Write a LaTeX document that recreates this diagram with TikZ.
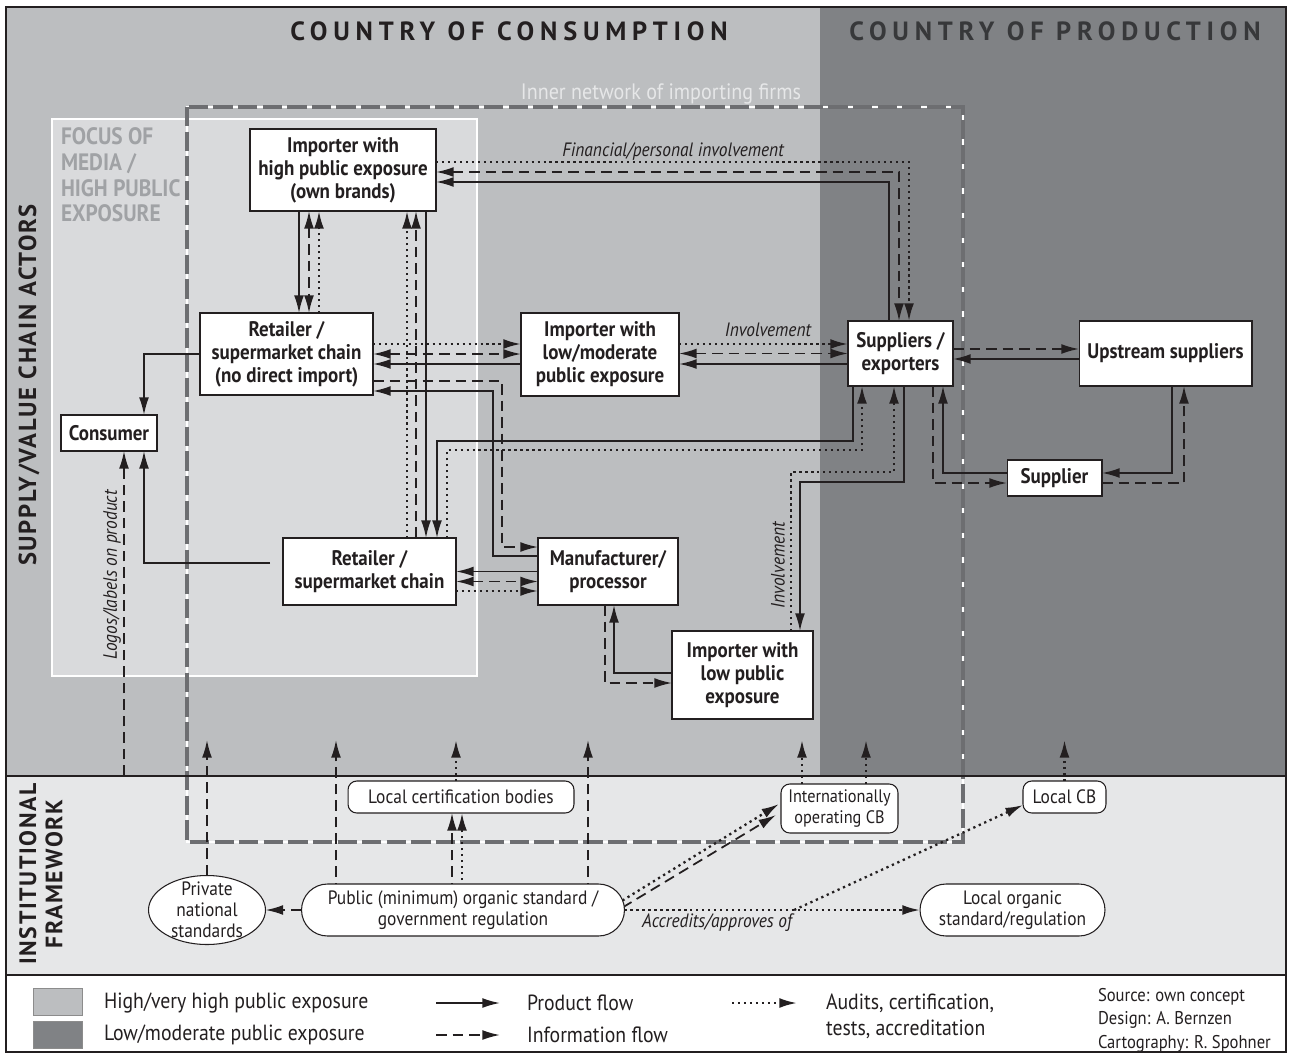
\documentclass[tikz,border=0pt]{standalone}
\usepackage{fontspec}
\setmainfont{PT Sans}[FakeStretch=0.9]
\newfontfamily\capsfont{PT Sans}[LetterSpace=7]
\newfontfamily\titlefont{PT Sans}[LetterSpace=22]
\usetikzlibrary{arrows.meta, shapes.geometric, shapes.misc, calc}
\definecolor{consgray}{HTML}{BCBEC0}
\definecolor{prodgray}{HTML}{808285}
\definecolor{focusgray}{HTML}{D9DADC}
\definecolor{instgray}{HTML}{E6E7E8}
\definecolor{netgray}{HTML}{6D6E71}
\definecolor{focustext}{HTML}{A0A2A5}
\definecolor{prodtext}{HTML}{37383A}
\definecolor{inkblack}{HTML}{231F20}
\newcommand{\px}{0.02cm}
\pgfdeclarelayer{back}
\pgfdeclarelayer{lines}
\pgfsetlayers{back,lines,main}

\begin{document}
\begin{tikzpicture}[x=0.02cm, y=-0.02cm, >={Latex[length=10pt,width=5.6pt]}]
  \useasboundingbox (0,0) rectangle (1290,1057);
  \begin{scope}[every node/.style={inner sep=0, outer sep=0, text=inkblack},
      actor/.style={draw=inkblack, fill=white, line width=0.6pt, align=center, font=\fontsize{12}{13.1}\selectfont\bfseries},
      certbox/.style={draw=inkblack, fill=white, line width=0.6pt, rounded corners=5pt, align=center, font=\fontsize{11}{12.5}\selectfont},
      stdbox/.style={draw=inkblack, fill=white, line width=0.6pt, align=center, font=\fontsize{11}{12}\selectfont},
      note/.style={font=\fontsize{11}{12}\selectfont\itshape},
      legtext/.style={anchor=west, align=left, font=\fontsize{12.5}{15}\selectfont},
      prod/.style={line width=1pt, inkblack},
      info/.style={line width=1pt, inkblack, dash pattern=on 6pt off 3.4pt},
      audit/.style={line width=1.3pt, inkblack, dash pattern=on 1.3pt off 2.1pt}]
    \begin{pgfonlayer}{back}
      \fill[consgray] (6,7) rectangle (1286,776);
      \fill[prodgray] (820,7) rectangle (1286,776);
      \fill[instgray] (6,776) rectangle (1286,975);
      \fill[white] (6,975) rectangle (1286,1052);
      \draw[white, line width=1.3pt, fill=focusgray] (52,119) rectangle (477,676);
      \draw[white, line width=1.2pt] (187,107) rectangle (963,842);
      \draw[netgray, line width=1.8pt, dash pattern=on 11pt off 3pt] (187,107) rectangle (963,842);
      \draw[inkblack, line width=1.2pt] (6,776) -- (1286,776);
      \draw[inkblack, line width=1.6pt] (6,975) -- (1286,975);
      \draw[inkblack, line width=0.8pt] (6,7) rectangle (1286,1052);
    \end{pgfonlayer}

    \node[font=\titlefont\fontsize{15}{17}\selectfont\bfseries] (cons) at (509,31) {COUNTRY OF CONSUMPTION};
    \node[font=\titlefont\fontsize{15}{17}\selectfont\bfseries, text=prodtext] (prod) at (1055,31) {COUNTRY OF PRODUCTION};
    \node[rotate=90, font=\capsfont\fontsize{14}{16}\selectfont\bfseries] (chain) at (29,385) {SUPPLY/VALUE CHAIN ACTORS};
    \node[rotate=90, align=center, font=\capsfont\fontsize{13.5}{15}\selectfont\bfseries] (inst) at (41,874) {INSTITUTIONAL\\FRAMEWORK};
    \node[anchor=north west, align=left, text=focustext, font=\fontsize{13.5}{14.6}\selectfont\bfseries] (focus) at (61,128) {FOCUS OF\\MEDIA /\\HIGH PUBLIC\\EXPOSURE};
    \node[text=instgray, font=\fontsize{12.7}{14}\selectfont] (net) at (661,94) {Inner network of importing firms};

    \node[actor, minimum width=3.72cm, minimum height=1.64cm] (IH) at (343,170) {Importer with\\high public exposure\\(own brands)};
    \node[actor, minimum width=3.46cm, minimum height=1.64cm] (RD) at (286.5,354) {Retailer /\\supermarket chain\\(no direct import)};
    \node[actor, minimum width=3.16cm, minimum height=1.66cm] (IM) at (600,354.5) {Importer with\\low/moderate\\public exposure};
    \node[actor, minimum width=2.1cm, minimum height=1.3cm] (SE) at (900.5,353.5) {Suppliers /\\exporters};
    \node[actor, minimum width=3.46cm, minimum height=1.3cm] (US) at (1165.5,353.5) {Upstream suppliers};
    \node[actor, minimum width=1.92cm, minimum height=0.72cm] (CO) at (109,433) {Consumer};
    \node[actor, minimum width=1.9cm, minimum height=0.72cm] (SU) at (1054.5,478) {Supplier};
    \node[actor, minimum width=3.46cm, minimum height=1.34cm] (RS) at (369.5,571.5) {Retailer /\\supermarket chain};
    \node[actor, minimum width=2.8cm, minimum height=1.34cm] (MP) at (608,571.5) {Manufacturer/\\processor};
    \node[actor, minimum width=2.82cm, minimum height=1.76cm] (IL) at (742.5,675) {Importer with\\low public\\exposure};

    \node[certbox, minimum width=4.52cm, minimum height=0.64cm] (LCB) at (461,797) {Local certification bodies};
    \node[certbox, font=\fontsize{10.3}{12}\selectfont, minimum width=2.34cm, minimum height=0.98cm] (ICB) at (839.5,808.5) {Internationally\\operating CB};
    \node[certbox, minimum width=1.66cm, minimum height=0.64cm] (LocCB) at (1064.5,797) {Local CB};
    \node[stdbox, ellipse, inner sep=-10pt, minimum width=2.34cm, minimum height=1.38cm] (PNS) at (207,910) {Private\\national\\standards};
    \node[stdbox, rounded rectangle, minimum width=6.46cm, minimum height=1.04cm] (PUB) at (463,910) {Public (minimum) organic standard /\\government regulation};
    \node[stdbox, rounded rectangle, minimum width=3.7cm, minimum height=1.04cm] (LOS) at (1012.5,910) {Local organic\\standard/regulation};

    \node[note] (fin) at (673,152) {Financial/personal involvement};
    \node[note] (inv) at (768,330) {Involvement};
    \node[note, rotate=90] (invl) at (778,565) {Involvement};
    \node[note, rotate=90] (logos) at (112,575) {Logos/labels on product};
    \node[note] (accr) at (717,923) {Accredits/approves of};
    \coordinate (lg) at (124,776);
    \coordinate (tip) at (0,740);

    \begin{pgfonlayer}{lines}
      \draw[audit,->] ([yshift=8*\px]IH.east) -| ([xshift=8.5*\px]SE.north);
      \draw[info,<->] ([yshift=-2*\px]IH.east) -| ([xshift=-1.5*\px]SE.north);
      \draw[prod,->] ([xshift=-11.5*\px]SE.north) |- ([yshift=-12*\px]IH.east);

      \draw[prod,->] ([xshift=12.5*\px]RD.north |- IH.south) -- ([xshift=12.5*\px]RD.north);
      \draw[info,<->] ([xshift=22.5*\px]RD.north |- IH.south) -- ([xshift=22.5*\px]RD.north);
      \draw[audit,->] ([xshift=32.5*\px]RD.north) -- ([xshift=32.5*\px]RD.north |- IH.south);

      \draw[audit,->] ([xshift=37.5*\px]RS.north) -- ([xshift=37.5*\px]RS.north |- IH.south);
      \draw[info,->] ([xshift=46.5*\px]RS.north) -- ([xshift=46.5*\px]RS.north |- IH.south);
      \draw[prod,->] ([xshift=56.5*\px]RS.north |- IH.south) -- ([xshift=56.5*\px]RS.north);

      \draw[audit,->] ([yshift=10*\px]RD.east) -- ([yshift=10*\px]RD.east -| IM.west);
      \draw[info,<->] (RD.east) -- (RD.east -| IM.west);
      \draw[prod,->] ([yshift=-10*\px]RD.east -| IM.west) -- ([yshift=-10*\px]RD.east);

      \draw[info,->] ([yshift=-27*\px]RD.east) -- ++(129,0) |- ([yshift=24.5*\px]MP.west);
      \draw[prod,->] ([yshift=15.5*\px]MP.west) -- ++(-45,0) |- ([yshift=-37*\px]RD.east);

      \draw[prod,->] (MP.west) -- (MP.west -| RS.east);
      \draw[info,<->] ([yshift=-10*\px]RS.east) -- ([yshift=-10*\px]RS.east -| MP.west);
      \draw[audit,->] ([yshift=-19.5*\px]RS.east) -- ([yshift=-19.5*\px]RS.east -| MP.west);

      \draw[prod,->] (RD.west) -| ([xshift=35*\px]CO.north);
      \draw[prod,->,shorten <=7.4pt] ([yshift=8.5*\px]RS.west) -| ([xshift=35*\px]CO.south);
      \draw[info,->] (lg) -- ([xshift=15*\px]CO.south);

      \draw[audit,->] ([yshift=9.5*\px]SE.west -| IM.east) -- ([yshift=9.5*\px]SE.west);
      \draw[info,<->] (SE.west -| IM.east) -- (SE.west);
      \draw[prod,->] ([yshift=-10.5*\px]SE.west) -- ([yshift=-10.5*\px]SE.west -| IM.east);

      \draw[info,->] ([yshift=4.5*\px]SE.east) -- ([yshift=4.5*\px]SE.east -| US.west);
      \draw[prod,->] ([yshift=-5.5*\px]SE.east -| US.west) -- ([yshift=-5.5*\px]SE.east);

      \draw[prod,->] ([xshift=-47.5*\px]SE.south) -- ++(0,55) -| ([xshift=67.5*\px]RS.north);
      \draw[audit,->] ([xshift=77.5*\px]RS.north) -- ++(0,-88) -| ([xshift=-38.5*\px]SE.south);

      \draw[prod,->] ([xshift=3.5*\px]SE.south) -- ++(0,96) -| ([xshift=57.5*\px]IL.north);
      \draw[audit,->] ([xshift=48.5*\px]IL.north) -- ++(0,-159) -| ([xshift=-6.5*\px]SE.south);

      \draw[prod,->] ([yshift=5*\px]SU.west) -| ([xshift=42.5*\px]SE.south);
      \draw[info,->] ([xshift=32.5*\px]SE.south) |- ([yshift=-5*\px]SU.west);
      \draw[prod,->] ([xshift=6.5*\px]US.south) |- ([yshift=5*\px]SU.east);
      \draw[info,->] ([yshift=-5*\px]SU.east) -| ([xshift=18.5*\px]US.south);

      \draw[prod,->] ([yshift=2*\px]IL.west) -| ([xshift=6*\px]MP.south);
      \draw[info,->] ([xshift=-3*\px]MP.south) |- ([yshift=-8*\px]IL.west);

      \draw[info,->] (PNS.north) -- (PNS.north |- tip);
      \foreach \d in {-127,125} {\draw[info,->] ([xshift=\d*\px]PUB.center) -- ([xshift=\d*\px]PUB.center |- tip);}
      \foreach \n/\d in {LCB/-5, ICB/-37.5, ICB/26.5, LocCB/0} {\draw[audit,->] ([xshift=\d*\px]\n.north) -- ([xshift=\d*\px]\n.north |- tip);}
      \draw[info,->] ([xshift=-11*\px]PUB.center) -- ([xshift=-11*\px]PUB.center |- LCB.south);
      \draw[audit,->] ([xshift=-1*\px]PUB.center) -- ([xshift=-1*\px]PUB.center |- LCB.south);
      \draw[info,->] (PUB.west) -- (PNS.east);
      \draw[audit,->] ([xshift=-2*\px,yshift=9.5*\px]PUB.east) -- ([xshift=-2*\px,yshift=4.5*\px]ICB.west);
      \draw[info,->] ([xshift=-2*\px,yshift=2.5*\px]PUB.east) -- ([xshift=-5*\px,yshift=-6.5*\px]ICB.west);
      \draw[audit,->] (PUB.east) -- (LOS.west);
      \draw[audit,->] ($(PUB.east)!0.574!(LOS.west)$) -- ([yshift=-8*\px]LocCB.west);
    \end{pgfonlayer}

    \node[draw=black!45, line width=0.4pt, fill=consgray, minimum width=0.98cm, minimum height=0.54cm] (sqhigh) at (57.5,1001.5) {};
    \node[draw=black!45, line width=0.4pt, fill=prodgray, minimum width=0.98cm, minimum height=0.54cm] (sqlow) at (57.5,1034.5) {};
    \node[legtext] (lhigh) at (104,1003) {High/very high public exposure};
    \node[legtext] (llow) at (104,1035) {Low/moderate public exposure};
    \node[legtext] (lprod) at (527,1003) {Product flow};
    \node[legtext] (linfo) at (527,1035) {Information flow};
    \node[legtext, font=\fontsize{12.5}{14.8}\selectfont] (laudit) at (826,1016) {Audits, certification,\\tests, accreditation};
    \node[anchor=north west, align=left, font=\fontsize{10.5}{13.4}\selectfont] (src) at (1098,988) {Source: own concept\\Design: A. Bernzen\\Cartography: R. Spohner};
    \draw[prod,->] ([xshift=-91*\px]lprod.west) -- ([xshift=-27*\px]lprod.west);
    \draw[info,->] ([xshift=-91*\px]linfo.west) -- ([xshift=-27*\px]linfo.west);
    \draw[audit,->] ([xshift=-94*\px,yshift=13*\px]laudit.west) -- ([xshift=-29*\px,yshift=13*\px]laudit.west);
  \end{scope}
\end{tikzpicture}
\end{document}
